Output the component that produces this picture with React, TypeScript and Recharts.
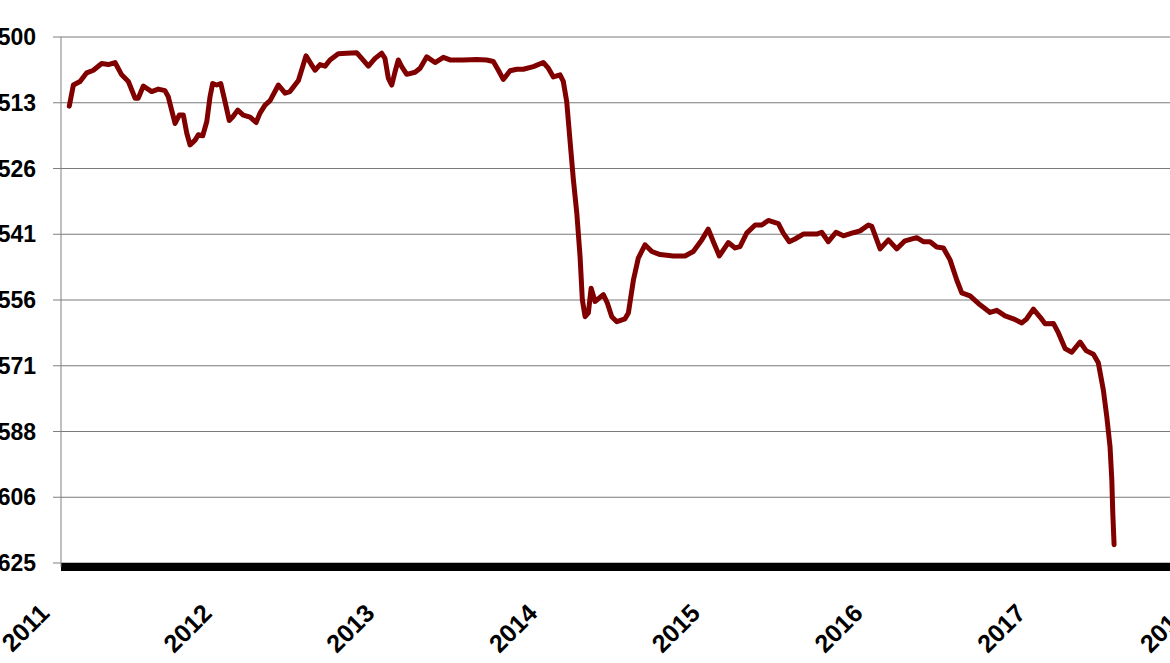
import React from 'react';
import { LineChart, Line, XAxis, YAxis, CartesianGrid } from 'recharts';

// Decimal-year dates of the sampled points
const dates: number[] = [
  2011.051, 2011.076, 2011.117, 2011.158, 2011.199, 2011.250, 2011.291, 2011.332, 2011.373, 2011.414,
  2011.455, 2011.475, 2011.506, 2011.557, 2011.598, 2011.639, 2011.659, 2011.680, 2011.701, 2011.727,
  2011.752, 2011.773, 2011.793, 2011.824, 2011.844, 2011.871, 2011.896, 2011.916, 2011.932, 2011.957,
  2011.982, 2012.008, 2012.034, 2012.055, 2012.086, 2012.120, 2012.162, 2012.199, 2012.223, 2012.254,
  2012.285, 2012.336, 2012.377, 2012.407, 2012.459, 2012.506, 2012.541, 2012.561, 2012.592, 2012.623,
  2012.653, 2012.704, 2012.756, 2012.817, 2012.848, 2012.889, 2012.930, 2012.971, 2012.991, 2013.012,
  2013.033, 2013.053, 2013.073, 2013.094, 2013.125, 2013.176, 2013.207, 2013.248, 2013.299, 2013.350,
  2013.391, 2013.473, 2013.555, 2013.616, 2013.657, 2013.688, 2013.718, 2013.760, 2013.801, 2013.841,
  2013.903, 2013.964, 2013.995, 2014.026, 2014.067, 2014.087, 2014.108, 2014.128, 2014.149, 2014.170,
  2014.190, 2014.204, 2014.221, 2014.241, 2014.258, 2014.282, 2014.333, 2014.358, 2014.385, 2014.416,
  2014.466, 2014.487, 2014.518, 2014.548, 2014.589, 2014.631, 2014.682, 2014.763, 2014.835, 2014.886,
  2014.938, 2014.978, 2015.009, 2015.046, 2015.101, 2015.143, 2015.173, 2015.214, 2015.266, 2015.307,
  2015.347, 2015.409, 2015.439, 2015.476, 2015.511, 2015.562, 2015.645, 2015.675, 2015.716, 2015.763,
  2015.808, 2015.870, 2015.911, 2015.962, 2015.983, 2016.034, 2016.085, 2016.136, 2016.187, 2016.259,
  2016.300, 2016.341, 2016.382, 2016.423, 2016.464, 2016.505, 2016.536, 2016.587, 2016.648, 2016.710,
  2016.751, 2016.802, 2016.853, 2016.905, 2016.935, 2016.976, 2017.017, 2017.048, 2017.099, 2017.130,
  2017.171, 2017.212, 2017.263, 2017.300, 2017.345, 2017.375, 2017.406, 2017.427, 2017.447, 2017.458, 2017.464, 2017.472,
];

// Rate values (axis is linear in 1/rate)
const rates: number[] = [
  513.5, 509.3, 508.6, 506.9, 506.4, 505.1, 505.3, 504.9, 507.3, 508.6,
  511.9, 511.9, 509.5, 510.6, 510.1, 510.4, 511.6, 514.3, 517.0, 515.3,
  515.3, 519.0, 521.4, 520.4, 519.3, 519.5, 516.6, 511.6, 509.0, 509.3,
  509.0, 512.6, 516.4, 515.7, 514.3, 515.3, 515.7, 516.8, 514.9, 513.3,
  512.4, 509.3, 510.9, 510.6, 508.4, 503.6, 505.4, 506.4, 505.3, 505.6,
  504.4, 503.2, 503.1, 503.0, 504.1, 505.6, 504.1, 503.1, 504.1, 508.0,
  509.3, 506.7, 504.4, 505.7, 507.2, 506.8, 506.0, 503.8, 504.9, 503.9,
  504.4, 504.4, 504.3, 504.4, 504.7, 506.4, 508.2, 506.5, 506.2, 506.2,
  505.7, 504.9, 506.0, 507.7, 507.3, 508.6, 512.6, 520.4, 528.7, 535.9,
  545.5, 555.5, 559.5, 558.6, 552.8, 555.9, 554.3, 556.3, 559.5, 560.7,
  560.0, 558.6, 550.9, 545.9, 542.9, 544.4, 545.1, 545.4, 545.4, 544.4,
  541.8, 539.4, 542.2, 545.4, 542.4, 543.6, 543.3, 540.3, 538.5, 538.5,
  537.5, 538.2, 540.3, 542.2, 541.6, 540.5, 540.5, 540.1, 542.2, 540.1,
  540.9, 540.2, 539.8, 538.5, 538.8, 543.8, 541.8, 543.8, 542.0, 541.3,
  542.2, 542.2, 543.4, 543.6, 546.3, 550.9, 553.9, 554.6, 556.7, 558.5,
  558.0, 559.3, 560.0, 561.0, 560.0, 557.7, 559.6, 561.2, 561.1, 563.4,
  567.2, 568.1, 565.6, 567.7, 568.6, 570.7, 577.5, 584.3, 592.2, 601.2, 610.5, 619.6,
];

const yearTicks: number[] = [2011, 2012, 2013, 2014, 2015, 2016, 2017, 2018];
const yTickValues: number[] = [0.002, 0.00195, 0.0019, 0.00185, 0.0018, 0.00175, 0.0017, 0.00165, 0.0016];
const yTickLabels: string[] = ['500', '513', '526', '541', '556', '571', '588', '606', '625'];

const data = dates.map((d, i) => ({ date: d, inv: 1 / rates[i] }));

const FONT = '"Liberation Sans", Arial, sans-serif';

const YearTick = (props: any) => {
  const { x, y, payload } = props;
  const ax = x - 23;
  const ay = y + 35;
  return (
    <text
      x={ax}
      y={ay}
      dy={18}
      textAnchor="end"
      transform={`rotate(-45 ${ax} ${ay})`}
      fontFamily={FONT}
      fontWeight="bold"
      fontSize={25}
      fill="#000"
    >
      {payload.value}
    </text>
  );
};

export default function App() {
  return (
    <div style={{ position: 'absolute', left: 0, top: 0, width: 1170, height: 663, overflow: 'hidden', background: '#fff' }}>
      <LineChart width={1200} height={663} data={data} margin={{ top: 37, right: 0, bottom: 0, left: 0 }}>
        <CartesianGrid horizontal vertical={false} stroke="#7a7a7a" strokeDasharray="" />
        <XAxis
          dataKey="date"
          type="number"
          domain={[2011, 2018]}
          ticks={yearTicks}
          allowDataOverflow
          height={96}
          axisLine={{ stroke: '#000', strokeWidth: 8 }}
          tickLine={false}
          tickSize={0}
          tickMargin={0}
          tick={<YearTick />}
          interval={0}
        />
        <YAxis
          type="number"
          domain={[0.00159696, 0.002]}
          allowDataOverflow
          ticks={yTickValues}
          interval={0}
          width={61}
          axisLine={{ stroke: '#808080', strokeWidth: 1 }}
          tickLine={{ stroke: '#808080' }}
          tickSize={8}
          tickMargin={17}
          tickFormatter={(v: number) => {
            const idx = yTickValues.findIndex((t) => Math.abs(t - v) < 1e-9);
            return idx >= 0 ? yTickLabels[idx] : '';
          }}
          tick={{ fill: '#000', fontSize: 23, fontWeight: 'bold', fontFamily: FONT }}
        />
        <Line
          type="linear"
          dataKey="inv"
          stroke="#800000"
          strokeWidth={5}
          strokeLinejoin="round"
          strokeLinecap="round"
          dot={false}
          activeDot={false}
          isAnimationActive={false}
        />
      </LineChart>
    </div>
  );
}
